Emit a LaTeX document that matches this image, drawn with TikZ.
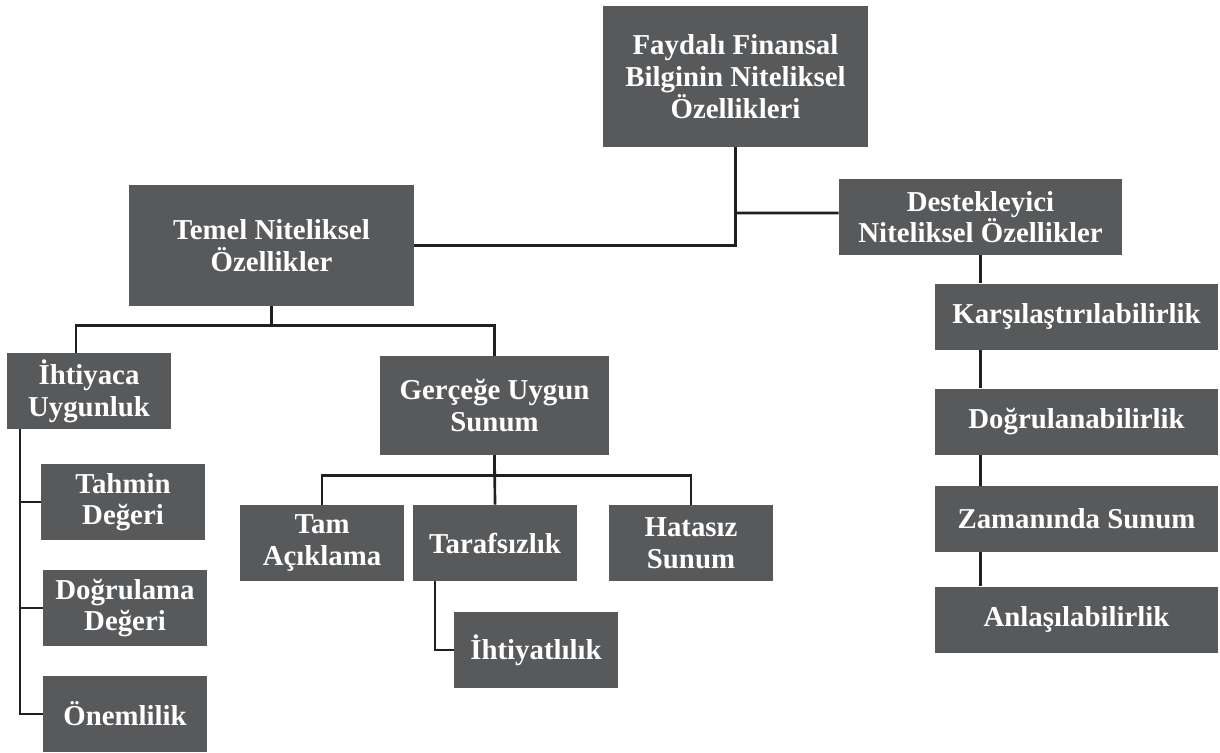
\documentclass[tikz,border=0pt]{standalone}
\usepackage{fontspec}
\setmainfont{Liberation Serif}
\definecolor{boxgray}{HTML}{58595B}
\definecolor{linegray}{HTML}{231F20}
\begin{document}
\begin{tikzpicture}[x=0.025cm, y=-0.025cm,
  box/.style={rectangle, fill=boxgray, text=white, inner sep=0pt, align=center,
    font=\bfseries\fontsize{20.5}{22.5}\selectfont},
  link/.style={draw=linegray, line width=1.9pt}]
  \useasboundingbox (0,0) rectangle (1220,752);
  % Nodes
  \node (root) [box, minimum height=3.525cm, minimum width=6.625cm] at (735.5, 76.5) {Faydalı Finansal\\Bilginin Niteliksel\\Özellikleri};
  \node (temel) [box, minimum height=3.025cm, minimum width=7.125cm] at (271.5, 245.5) {Temel Niteliksel\\Özellikler};
  \node (destek) [box, minimum height=1.9cm, minimum width=7.075cm] at (980.5, 217) {Destekleyici\\Niteliksel Özellikler};
  \node (ihtiyaca) [box, minimum height=1.9cm, minimum width=4.1cm] at (89, 391) {İhtiyaca\\Uygunluk};
  \node (gercege) [box, minimum height=2.475cm, minimum width=5.725cm] at (494.5, 405.5) {Gerçeğe Uygun\\Sunum};
  \node (tahmin) [box, minimum height=1.9cm, minimum width=4.1cm] at (123, 502) {Tahmin\\Değeri};
  \node (dogrulama) [box, minimum height=1.9cm, minimum width=4.1cm] at (125, 608) {Doğrulama\\Değeri};
  \node (onemlilik) [box, minimum height=1.9cm, minimum width=4.1cm] at (125, 714) {Önemlilik};
  \node (tam) [box, minimum height=1.9cm, minimum width=4.1cm] at (322, 543) {Tam\\Açıklama};
  \node (tarafsiz) [box, minimum height=1.9cm, minimum width=4.1cm] at (495, 543) {Tarafsızlık};
  \node (hatasiz) [box, minimum height=1.9cm, minimum width=4.1cm] at (691, 543) {Hatasız\\Sunum};
  \node (ihtiyatli) [box, minimum height=1.9cm, minimum width=4.1cm] at (536, 650) {İhtiyatlılık};
  \node (karsilas) [box, minimum height=1.65cm, minimum width=7.075cm] at (1076.5, 316.5) {Karşılaştırılabilirlik};
  \node (dogrulan) [box, minimum height=1.65cm, minimum width=7.075cm] at (1076.5, 421.5) {Doğrulanabilirlik};
  \node (zamaninda) [box, minimum height=1.65cm, minimum width=7.075cm] at (1076.5, 519) {Zamanında Sunum};
  \node (anlasil) [box, minimum height=1.65cm, minimum width=7.075cm] at (1076.5, 619.5) {Anlaşılabilirlik};
  % Lines
  \draw[link] (root.south) |- (temel.east);
  \draw[link] (root.south |- destek.west) ++(0,-4) -- ([yshift=2.85pt]destek.west);
  \draw[link] (temel.south) -- ++(0,19) -| ([xshift=-9.2pt]ihtiyaca.north);
  \draw[link] (temel.south) ++(0,19) -| (gercege.north);
  \draw[link] ([xshift=-49pt]ihtiyaca.south) |- (onemlilik.west);
  \draw[link] ([xshift=-49pt]ihtiyaca.south) |- (tahmin.west);
  \draw[link] ([xshift=-49pt]ihtiyaca.south) |- (dogrulama.west);
  \draw[link] (gercege.south) -- ++(0,20) -| (tam.north);
  \draw[link] (gercege.south) -- (tarafsiz.north);
  \draw[link] (gercege.south) ++(0,20) -| (hatasiz.north);
  \draw[link] ([xshift=-42.7pt]tarafsiz.south) |- (ihtiyatli.west);
  \foreach \a/\b in {destek/karsilas, karsilas/dogrulan, dogrulan/zamaninda, zamaninda/anlasil}
    \draw[link] (destek.south |- \a.south) -- (destek.south |- \b.north);
\end{tikzpicture}
\end{document}
